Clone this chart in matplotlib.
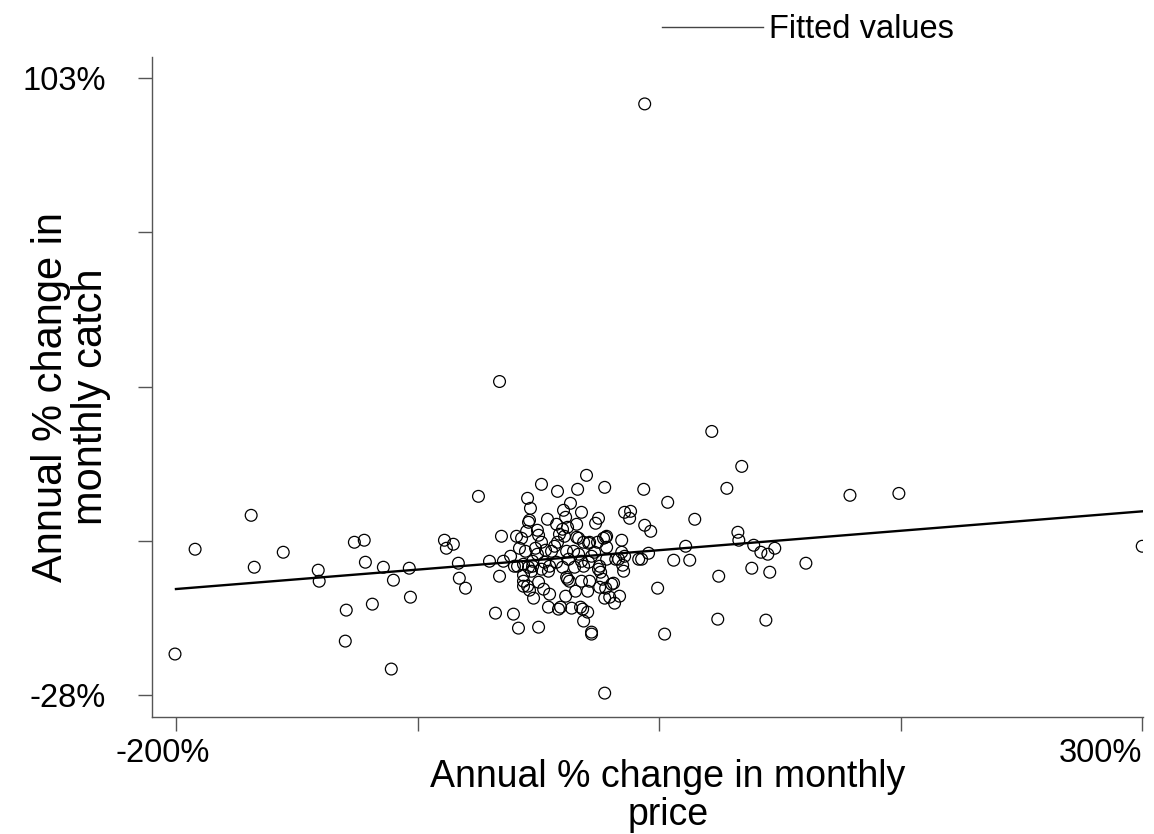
import matplotlib
matplotlib.use('Agg')
import matplotlib.pyplot as plt
import matplotlib.transforms as mtransforms
from matplotlib.lines import Line2D

plt.rcParams['font.family'] = ['Liberation Sans', 'DejaVu Sans']

# annual % change in monthly price (x) and catch (y)
price_chg = [
    -200.5, -190.1, -161.1, -159.5, -144.5, -126.4, -125.9, -111.9, -112.4, -107.7,
    -102.6, -102.0, -98.4, -92.7, -88.6, -87.5, -79.3, -78.7, -61.1, -60.1,
    -56.5, -53.9, -53.4, -50.2, -43.5, -32.6, -37.8, -30.6, -32.6, -34.7,
    -25.4, -22.8, -12.4, -31.6, -23.8, -21.2, -22.3, -19.2, -26.9, -23.3,
    -24.9, -18.1, -16.6, -17.6, -17.1, -18.6, -13.0, -12.4, -10.9, -7.8,
    -2.6, 0.5, -3.1, 1.6, 4.1, 2.6, 0.0, -1.6, 1.0, 7.8,
    12.4, 9.8, 7.3, 8.3, 14.0, 18.6, 17.1, 21.8, 21.2, 22.8,
    30.6, 32.1, 35.2, 34.7, 42.0, 42.5, 45.6, 54.4, 42.5, -14.0,
    -10.9, -13.0, -15.5, -15.5, -16.1, -20.2, -20.2, -18.1, -17.1, -15.0,
    -20.2, -12.4, -9.8, -6.7, -7.3, -2.1, -1.0, 1.6, 4.7, 9.3,
    10.4, 13.0, 10.9, 15.0, 15.0, 21.8, 52.8, 49.2, 57.5, 40.9,
    44.5, 31.1, 31.6, 26.4, 22.3, 21.8, 26.9, 29.5, 22.3, 22.8,
    18.1, 13.5, 10.9, 7.3, -2.6, -4.1, -5.7, -8.8, -6.7, -7.3,
    -3.1, 2.1, 5.7, 8.3, 9.8, 13.5, 15.0, 16.6, 19.2, 19.7,
    20.7, 18.6, 2.6, 3.6, 6.7, 9.8, 13.0, 14.0, 6.2, 10.9,
    22.8, 27.5, 30.6, 3.1, 0.0, -9.3, -10.9, -20.2, -17.6, 2.1,
    19.2, 25.4, 24.4, 39.4, 29.0, 32.1, 77.2, 92.7, 85.0, 68.4,
    90.7, 91.2, 63.7, 98.9, 102.6, 106.2, 109.8, 65.8, 97.9, 107.2,
    125.9, 80.8, 80.3, 105.2, 148.7, 174.0, 299.9,
]
catch_chg = [
    -19.3, 2.95, 10.15, -0.87, 2.31, -1.50, -3.84, -9.98, -16.56, 4.43,
    4.86, 0.19, -8.71, -0.87, -22.49, -3.62, -1.08, -7.23, 4.86, 3.16,
    4.01, -0.02, -3.20, -5.32, 14.18, 38.56, 0.40, 0.40, -2.78, -10.62,
    -10.83, -13.8, -13.6, 5.70, 5.70, 5.28, 3.16, 2.52, 1.46, -0.66,
    -0.66, 13.76, 11.64, 8.67, 9.10, 6.76, 6.98, 5.92, 16.73, 9.31,
    15.24, 11.22, 8.25, 9.73, 12.70, 7.61, 7.19, 6.13, 5.70, 15.67,
    18.64, 10.79, 8.25, 5.28, 4.43, 9.52, 8.46, 16.09, 5.28, 5.70,
    4.86, 10.79, 11.0, 9.52, 15.67, 8.04, 6.76, 12.91, 97.5, 3.16,
    4.43, 1.89, 0.40, -0.66, -1.72, -2.56, -3.84, -4.90, -5.74, -7.44,
    -4.90, -4.05, -5.53, -6.59, -9.35, -9.77, -9.35, -7.02, -9.56, -9.35,
    -9.77, -10.41, -12.3, -14.65, -15.07, -27.6, -15.07, -5.32, 0.62, 0.83,
    2.10, -0.45, -1.72, -4.26, -5.32, -7.44, -8.50, -7.02, 5.49, 3.37,
    4.43, 4.22, 4.43, 5.49, 4.43, 3.58, 2.52, 2.74, -0.66, -1.72,
    0.19, 2.52, 2.52, 1.89, 0.40, 0.19, 1.46, 2.31, -0.66, -1.93,
    -3.41, -1.29, -3.41, -3.84, -5.96, -3.84, -5.96, -3.84, -0.87, -0.66,
    0.83, 0.83, 2.31, 0.83, -0.87, 0.19, -1.29, -0.23, -0.87, -2.99,
    -5.11, -4.47, -7.23, 0.83, 0.83, 1.46, 27.96, 20.54, 15.88, 9.31,
    6.55, 4.86, 3.58, 3.80, 2.31, 1.89, 3.16, 0.62, -1.08, -1.93,
    -0.02, -2.78, -11.9, -12.1, 14.4, 14.8, 3.58,
]

# fitted values line (end points)
fit_x = [-200, 300]
fit_y = [-5.5, 11.0]

xticks = [-200, -75, 50, 175, 300]
xticklabels = ['-200%', '', '', '', '300%']
yticks = [-28, 4.75, 37.5, 70.25, 103]
yticklabels = ['-28%', '', '', '', '103%']

fig = plt.figure(figsize=(11.54, 8.34), dpi=100)
ax = fig.add_axes([152 / 1154, 1 - 717 / 834, (1143 - 152) / 1154, (717 - 57) / 834])

ax.scatter(price_chg, catch_chg, s=72, facecolors='none', edgecolors='black', linewidths=0.9, zorder=3)
ax.plot(fit_x, fit_y, color='black', lw=1.7, zorder=4)

ax.set_xlim(-212.4, 300.3)
ax.set_ylim(-32.67, 107.46)

ax.set_xticks(xticks)
ax.set_xticklabels(xticklabels)
ax.set_yticks(yticks)
ax.set_yticklabels(yticklabels)

for side in ['top', 'right']:
    ax.spines[side].set_visible(False)
for side in ['left', 'bottom']:
    ax.spines[side].set_color('#555555')
    ax.spines[side].set_linewidth(1.0)
ax.tick_params(axis='both', length=10, width=1.0, color='#555555', labelsize=23.5)
ax.tick_params(axis='x', pad=5)
ax.tick_params(axis='y', pad=23)

# Stata-like placement of the end labels on the x axis
labs = ax.get_xticklabels()
labs[0].set_transform(labs[0].get_transform() + mtransforms.ScaledTranslation(-13 / 100, 0, fig.dpi_scale_trans))
labs[-1].set_ha('right')

fig.text(668 / 1154, 1 - 796 / 834, 'Annual % change in monthly\nprice', fontsize=27,
         ha='center', va='center', multialignment='center', linespacing=1.1)
fig.text(71 / 1154, 1 - 397 / 834, 'Annual % change in\nmonthly catch', fontsize=30, rotation=90,
         ha='center', va='center', multialignment='center', linespacing=1.0)

handle = Line2D([0], [0], color='#444444', lw=1.0)
fig.legend([handle], ['Fitted values'], loc='center', bbox_to_anchor=(808 / 1154, 1 - 30 / 834),
           frameon=False, fontsize=23.5, handlelength=3.1, handletextpad=0.2)

fig.savefig('out.png', dpi=100)
